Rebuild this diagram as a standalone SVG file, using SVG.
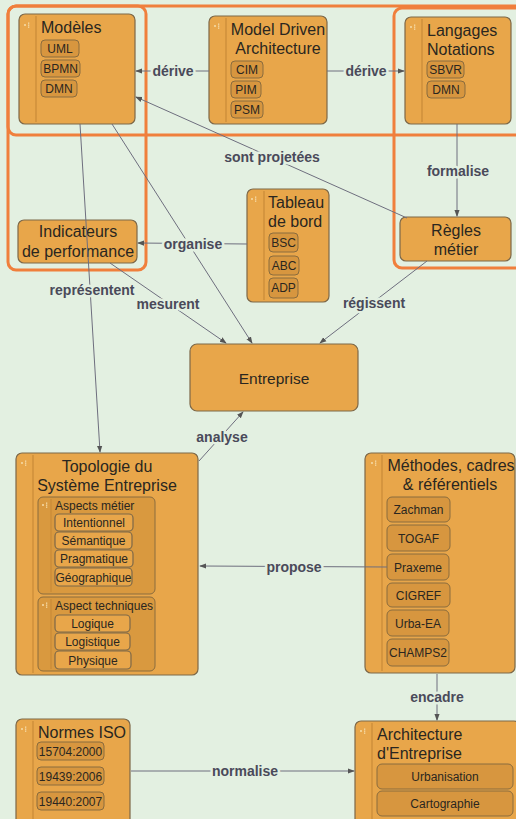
<svg xmlns="http://www.w3.org/2000/svg" width="516" height="819" viewBox="0 0 516 819">
<defs>
<style>
.n{fill:#e8a64a;stroke:#7d6848;stroke-width:1.2}
.s{fill:#d7963f;stroke:#8a6c3e;stroke-width:1}
.g{fill:#d9993f;stroke:#8a6c3e;stroke-width:1}
.dv{stroke:#c88a38;stroke-width:1.2}
.t{font-family:"Liberation Sans",Arial,sans-serif;font-size:16px;fill:#2a2620}
.st{font-family:"Liberation Sans",Arial,sans-serif;font-size:12px;fill:#2a2620}
.c{text-anchor:middle}
.fr{fill:none;stroke:#f07f3c;stroke-width:3}
.e{fill:none;stroke:#6e6e7e;stroke-width:1;marker-end:url(#a)}
.lb{font-family:"Liberation Sans",Arial,sans-serif;font-size:14px;font-weight:bold;fill:#4a4a5a;text-anchor:middle;stroke:#e3f0e1;stroke-width:5;paint-order:stroke;stroke-linejoin:round}
.ic{fill:#f6dcaa}
</style>
<marker id="a" viewBox="0 0 8 8" refX="7" refY="4" markerWidth="7" markerHeight="7" orient="auto" markerUnits="userSpaceOnUse">
<path d="M0,1 L8,4 L0,7 z" fill="#555"/>
</marker>
<g id="icon"><circle cx="0" cy="0" r="1" class="ic"/><rect x="3" y="-2.5" width="1.3" height="1.3" class="ic"/><rect x="3" y="-0.5" width="1.3" height="1.3" class="ic"/><rect x="3" y="1.5" width="1.3" height="1.3" class="ic"/></g>
</defs>
<rect width="516" height="819" fill="#e3f0e1"/>

<g id="frames">
<rect x="8" y="6" width="138" height="264" rx="8" class="fr"/>
<rect x="8" y="6" width="520" height="129" rx="8" class="fr"/>
<rect x="394" y="8" width="130" height="260" rx="8" class="fr"/>
</g>

<g id="modeles">
<rect class="n" x="19" y="14" width="116" height="110" rx="6"/>
<line class="dv" x1="36" y1="16" x2="36" y2="122"/>
<use href="#icon" x="25" y="25"/>
<text class="t" x="41" y="33">Modèles</text>
<rect class="s" x="41" y="40" width="38" height="17" rx="4"/><text class="st c" x="60" y="53">UML</text>
<rect class="s" x="41" y="60" width="39" height="17" rx="4"/><text class="st c" x="60.5" y="73">BPMN</text>
<rect class="s" x="41" y="80" width="36" height="17" rx="4"/><text class="st c" x="59" y="93">DMN</text>
</g>

<g id="mda">
<rect class="n" x="209" y="16" width="118" height="108" rx="6"/>
<line class="dv" x1="226" y1="18" x2="226" y2="122"/>
<use href="#icon" x="215" y="26"/>
<text class="t c" x="278" y="35">Model Driven</text>
<text class="t c" x="278" y="54">Architecture</text>
<rect class="s" x="231" y="61" width="32" height="17" rx="4"/><text class="st c" x="247" y="74">CIM</text>
<rect class="s" x="231" y="81" width="30" height="17" rx="4"/><text class="st c" x="246" y="94">PIM</text>
<rect class="s" x="231" y="101" width="32" height="17" rx="4"/><text class="st c" x="247" y="114">PSM</text>
</g>

<g id="langages">
<rect class="n" x="405" y="17" width="106" height="107" rx="6"/>
<line class="dv" x1="422" y1="19" x2="422" y2="122"/>
<use href="#icon" x="411" y="27"/>
<text class="t" x="427" y="36">Langages</text>
<text class="t" x="427" y="55">Notations</text>
<rect class="s" x="427" y="61" width="37" height="17" rx="4"/><text class="st c" x="445.5" y="74">SBVR</text>
<rect class="s" x="427" y="81" width="38" height="17" rx="4"/><text class="st c" x="446" y="94">DMN</text>
</g>

<g id="tableau">
<rect class="n" x="247" y="189" width="82" height="113" rx="6"/>
<line class="dv" x1="264" y1="191" x2="264" y2="300"/>
<use href="#icon" x="252" y="199"/>
<text class="t" x="268" y="208">Tableau</text>
<text class="t" x="268" y="227">de bord</text>
<rect class="s" x="269" y="233" width="29" height="19" rx="4"/><text class="st c" x="283.5" y="247">BSC</text>
<rect class="s" x="269" y="256" width="30" height="19" rx="4"/><text class="st c" x="284" y="270">ABC</text>
<rect class="s" x="269" y="278" width="29" height="20" rx="4"/><text class="st c" x="283.5" y="292">ADP</text>
</g>

<g id="regles">
<rect class="n" x="400" y="217" width="111" height="44" rx="6"/>
<text class="t c" x="456" y="236">Règles</text>
<text class="t c" x="456" y="255">métier</text>
</g>

<g id="indicateurs">
<rect class="n" x="18" y="220" width="119" height="43" rx="6"/>
<text class="t c" x="78" y="237">Indicateurs</text>
<text class="t c" x="78" y="257">de performance</text>
</g>

<g id="entreprise">
<rect class="n" x="190" y="344" width="168" height="67" rx="7"/>
<text class="t c" x="274" y="384" style="font-size:15.5px">Entreprise</text>
</g>

<g id="topologie">
<rect class="n" x="16" y="453" width="182" height="222" rx="6"/>
<line class="dv" x1="33" y1="455" x2="33" y2="673"/>
<use href="#icon" x="22" y="463"/>
<text class="t c" x="107" y="472">Topologie du</text>
<text class="t c" x="107" y="491">Système Entreprise</text>
<g id="aspects-metier">
<rect class="g" x="38" y="497" width="117" height="97" rx="5"/>
<line class="dv" x1="51" y1="499" x2="51" y2="592"/>
<use href="#icon" x="43" y="505"/>
<text class="st" x="55" y="510">Aspects métier</text>
<rect class="n" x="55" y="514" width="78" height="17" rx="4"/><text class="st c" x="94" y="527">Intentionnel</text>
<rect class="n" x="55" y="532" width="77" height="17" rx="4"/><text class="st c" x="93.5" y="545">Sémantique</text>
<rect class="n" x="55" y="550" width="78" height="17" rx="4"/><text class="st c" x="94" y="563">Pragmatique</text>
<rect class="n" x="55" y="568" width="77" height="18" rx="4"/><text class="st c" x="93.5" y="582">Géographique</text>
</g>
<g id="aspect-techniques">
<rect class="g" x="38" y="597" width="117" height="74" rx="5"/>
<line class="dv" x1="51" y1="599" x2="51" y2="669"/>
<use href="#icon" x="43" y="605"/>
<text class="st" x="55" y="610">Aspect techniques</text>
<rect class="n" x="55" y="615" width="75" height="17" rx="4"/><text class="st c" x="92.5" y="628">Logique</text>
<rect class="n" x="55" y="633" width="75" height="17" rx="4"/><text class="st c" x="92.5" y="646">Logistique</text>
<rect class="n" x="55" y="651" width="76" height="18" rx="4"/><text class="st c" x="93" y="665">Physique</text>
</g>
</g>

<g id="methodes">
<rect class="n" x="365" y="453" width="150" height="220" rx="6"/>
<line class="dv" x1="382" y1="455" x2="382" y2="671"/>
<use href="#icon" x="372" y="463"/>
<text class="t c" x="451" y="471">Méthodes, cadres</text>
<text class="t c" x="450" y="490">&amp; référentiels</text>
<rect class="s" x="387" y="497" width="63" height="25" rx="5"/><text class="st c" x="418.5" y="514">Zachman</text>
<rect class="s" x="387" y="525" width="63" height="26" rx="5"/><text class="st c" x="418.5" y="543">TOGAF</text>
<rect class="s" x="387" y="554" width="62" height="26" rx="5"/><text class="st c" x="418" y="572">Praxeme</text>
<rect class="s" x="387" y="583" width="63" height="24" rx="5"/><text class="st c" x="418.5" y="600">CIGREF</text>
<rect class="s" x="387" y="610" width="62" height="26" rx="5"/><text class="st c" x="418" y="628">Urba-EA</text>
<rect class="s" x="387" y="639" width="62" height="27" rx="5"/><text class="st c" x="418" y="657">CHAMPS2</text>
</g>

<g id="normes">
<rect class="n" x="16" y="719" width="114" height="110" rx="6"/>
<line class="dv" x1="33" y1="721" x2="33" y2="819"/>
<use href="#icon" x="22" y="729"/>
<text class="t" x="38" y="738">Normes ISO</text>
<rect class="s" x="37" y="742" width="67" height="18" rx="4"/><text class="st c" x="70.5" y="756">15704:2000</text>
<rect class="s" x="37" y="767" width="67" height="18" rx="4"/><text class="st c" x="70.5" y="781">19439:2006</text>
<rect class="s" x="37" y="792" width="67" height="18" rx="4"/><text class="st c" x="70.5" y="806">19440:2007</text>
</g>

<g id="architecture">
<rect class="n" x="355" y="721" width="165" height="110" rx="6"/>
<line class="dv" x1="372" y1="723" x2="372" y2="819"/>
<use href="#icon" x="361" y="731"/>
<text class="t" x="377" y="740">Architecture</text>
<text class="t" x="377" y="759">d'Entreprise</text>
<rect class="s" x="377" y="764" width="136" height="25" rx="5"/><text class="st c" x="445" y="781">Urbanisation</text>
<rect class="s" x="377" y="791" width="136" height="25" rx="5"/><text class="st c" x="445" y="808">Cartographie</text>
</g>

<g id="connectors">
<path class="e" d="M209,71 L136,71"/>
<path class="e" d="M327,71 L404,71"/>
<path class="e" d="M457,124 L457,216"/>
<path class="e" d="M407,218 L136,97"/>
<path class="e" d="M247,244 L138,243"/>
<path class="e" d="M112,124 L252,343"/>
<path class="e" d="M80,124 L100,452"/>
<path class="e" d="M110,263 L226,343"/>
<path class="e" d="M427,261 L320,343"/>
<path class="e" d="M199,461 L243,412"/>
<path class="e" d="M387,567 L200,566"/>
<path class="e" d="M437,674 L437,720"/>
<path class="e" d="M131,771 L354,771"/>
<text class="lb" x="173" y="76">dérive</text>
<text class="lb" x="366" y="76">dérive</text>
<text class="lb" x="458" y="176">formalise</text>
<text class="lb" x="272" y="162">sont projetées</text>
<text class="lb" x="193" y="249">organise</text>
<text class="lb" x="92" y="295">représentent</text>
<text class="lb" x="168" y="309">mesurent</text>
<text class="lb" x="374" y="308">régissent</text>
<text class="lb" x="222" y="442">analyse</text>
<text class="lb" x="294" y="572">propose</text>
<text class="lb" x="437" y="702">encadre</text>
<text class="lb" x="245" y="776">normalise</text>
</g>
</svg>
